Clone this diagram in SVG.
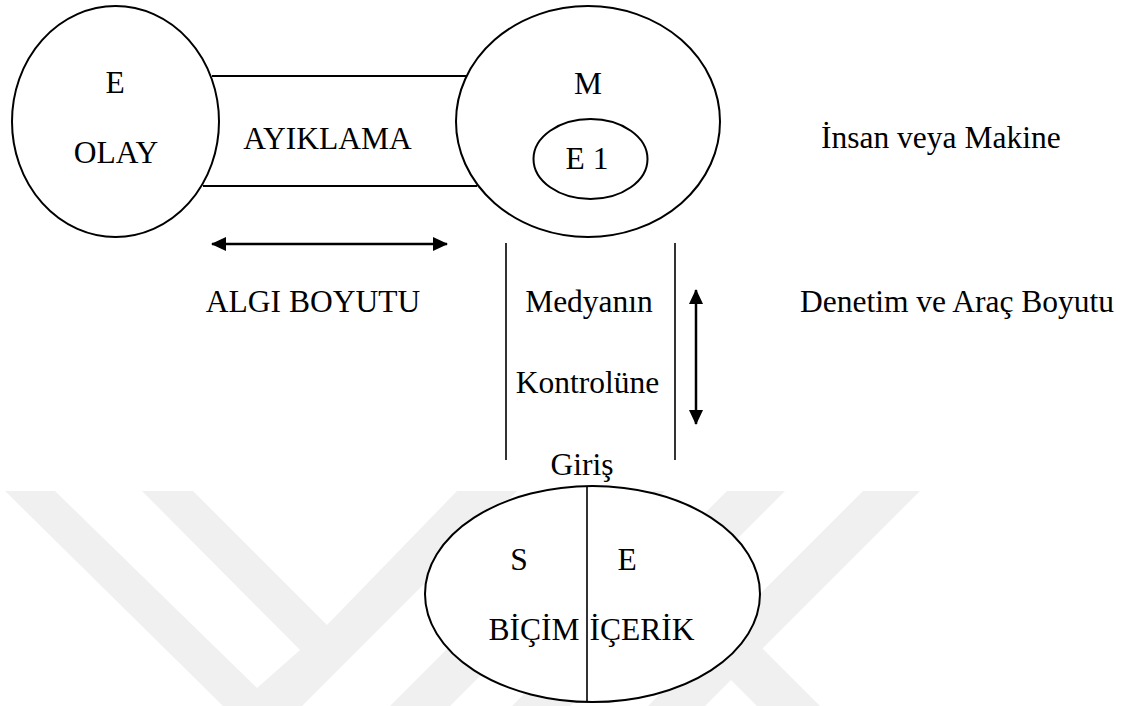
<svg xmlns="http://www.w3.org/2000/svg" width="1135" height="706" viewBox="0 0 1135 706">
<style>
text{font-family:'Liberation Serif',Tinos,'Times New Roman',Times,serif;font-size:31.5px;fill:#000}
.t{text-anchor:middle}
.sh{fill:#fff;stroke:#000;stroke-width:2}
.ln{stroke:#000;stroke-width:2;fill:none}
.vl{stroke:#000;stroke-width:1.6;fill:none}
.ar{stroke:#000;stroke-width:2.5;fill:none}
.wm{fill:#f0f0f0}
</style>
<defs>
<marker id="ah" viewBox="0 0 15 14" refX="14" refY="7" markerWidth="15" markerHeight="14" orient="auto-start-reverse" markerUnits="userSpaceOnUse">
<path d="M0,0 L15,7 L0,14 z" fill="#000"/>
</marker>
</defs>
<rect width="1135" height="706" fill="#fff"/>
<g id="watermark">
<polygon class="wm" points="5,491 55,491 257,688 300,650 142,491 193,491 327,625 457,491 517,491 302,706 223,706"/>
<polygon class="wm" points="605,491 665,491 450,706 390,706"/>
<polygon class="wm" points="727,491 785,491 570,706 512,706"/>
<polygon class="wm" points="863,491 920,491 705,706 648,706"/>
<polygon class="wm" points="542,491 605,491 820,706 757,706"/>
</g>
<g id="connectors">
<line class="ln" x1="212" y1="76" x2="467" y2="76"/>
<line class="ln" x1="203" y1="186" x2="477" y2="186"/>
<line class="ar" x1="212" y1="244" x2="447" y2="244" marker-start="url(#ah)" marker-end="url(#ah)"/>
<line class="vl" x1="506" y1="243" x2="506" y2="460"/>
<line class="vl" x1="675" y1="243" x2="675" y2="460"/>
<line class="ar" x1="696" y1="290" x2="696" y2="424" marker-start="url(#ah)" marker-end="url(#ah)"/>
</g>
<g id="node-olay">
<ellipse class="sh" cx="115.5" cy="121.5" rx="103.5" ry="115.5"/>
<text class="t" x="115" y="93">E</text>
<text class="t" x="116" y="163">OLAY</text>
</g>
<g id="label-ayiklama">
<text class="t" x="327.5" y="149">AYIKLAMA</text>
</g>
<g id="node-m">
<ellipse class="sh" cx="588" cy="121.5" rx="132" ry="115.5"/>
<text class="t" x="588" y="94">M</text>
<g id="node-e1">
<ellipse class="sh" cx="590.5" cy="159" rx="57" ry="40"/>
<text class="t" x="587" y="169">E 1</text>
</g>
</g>
<g id="label-insan">
<text x="821" y="148">İnsan veya Makine</text>
</g>
<g id="label-algi">
<text class="t" x="313" y="312">ALGI BOYUTU</text>
</g>
<g id="label-medya">
<text class="t" x="589" y="312">Medyanın</text>
<text class="t" x="587.5" y="393">Kontrolüne</text>
<text class="t" x="582" y="475">Giriş</text>
</g>
<g id="label-denetim">
<text x="800" y="312">Denetim ve Araç Boyutu</text>
</g>
<g id="node-se">
<ellipse class="sh" cx="592.5" cy="594" rx="167.5" ry="108"/>
<line class="vl" x1="587" y1="486" x2="587" y2="702"/>
<text class="t" x="519" y="570">S</text>
<text class="t" x="627" y="570">E</text>
<text class="t" x="534" y="640">BİÇİM</text>
<text class="t" x="642" y="640">İÇERİK</text>
</g>
</svg>
